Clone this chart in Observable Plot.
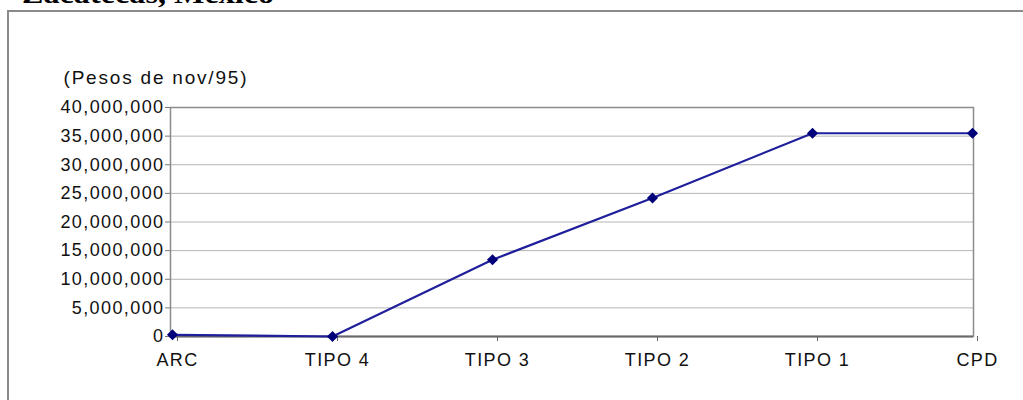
<!DOCTYPE html>
<html><head><meta charset="utf-8">
<script src="https://cdn.jsdelivr.net/npm/d3@7"></script>
<script src="https://cdn.jsdelivr.net/npm/@observablehq/plot@0.6"></script>
<style>
body{margin:0;background:#fff;overflow:hidden}
#wrap{position:relative;width:1023px;height:400px;overflow:hidden;background:#fff}
#box{position:absolute;left:7px;top:10px;width:1100px;height:500px;border:2px solid #8a8a8a}
#title{position:absolute;left:22px;top:-20px;font-family:"Liberation Serif","Times New Roman",serif;font-weight:bold;font-size:28px;line-height:28px;color:#000;white-space:nowrap;transform:scaleX(1.15);transform-origin:left top}
#chart{position:absolute;left:0;top:0}
#chart svg text{letter-spacing:1.4px}
#chart svg text.unit{letter-spacing:1.8px}
</style></head>
<body>
<div id="wrap">
<div id="title">Zacatecas, México</div>
<div id="chart"></div>
<div id="box"></div>
</div>
<script>
const categories = ["ARC", "TIPO 4", "TIPO 3", "TIPO 2", "TIPO 1", "CPD"];
const values = [300000, 0, 13400000, 24200000, 35500000, 35500000];
const yTicks = [0, 5000000, 10000000, 15000000, 20000000, 25000000, 30000000, 35000000, 40000000];
const unitLabel = "(Pesos de nov/95)";

const data = categories.map((c, i) => ({cat: c, v: values[i]}));

const chart = Plot.plot({
  width: 1023,
  height: 400,
  marginLeft: 170,
  marginRight: 50,
  marginTop: 107,
  marginBottom: 64,
  style: {fontFamily: "'Liberation Sans', Arial, sans-serif", fontSize: "18px", color: "#111", background: "transparent", overflow: "visible"},
  x: {type: "point", domain: categories, padding: 0, label: null},
  y: {domain: [0, 40000000], label: null},
  marks: [
    Plot.gridY(yTicks, {stroke: "#b4b4b4", strokeOpacity: 1, strokeWidth: 1}),
    Plot.frame({stroke: "#8c8c8c", strokeWidth: 1.5}),
    Plot.ruleY([0], {stroke: "#6a6a6a", strokeWidth: 2}),
    Plot.axisY({ticks: yTicks, tickFormat: d3.format(","), tickSize: 5, tickPadding: 1, stroke: "#777", fill: "#111", label: null}),
    Plot.axisX({tickSize: 5, tickPadding: 12, dx: 5, stroke: "#666", fill: "#111", label: null}),
    Plot.line(data, {x: "cat", y: "v", stroke: "#1f1f9c", strokeWidth: 2.2}),
    Plot.dot(data, {x: "cat", y: "v", symbol: "diamond2", fill: "#00007a", r: 5}),
    Plot.text([unitLabel], {frameAnchor: "top-left", dx: -107, dy: -30, textAnchor: "start", lineAnchor: "middle", fontSize: 19, fill: "#111", className: "unit"})
  ]
});
chart.querySelectorAll("g.unit text, text.unit").forEach(t => t.classList.add("unit"));
document.getElementById("chart").appendChild(chart);
</script>
</body></html>
